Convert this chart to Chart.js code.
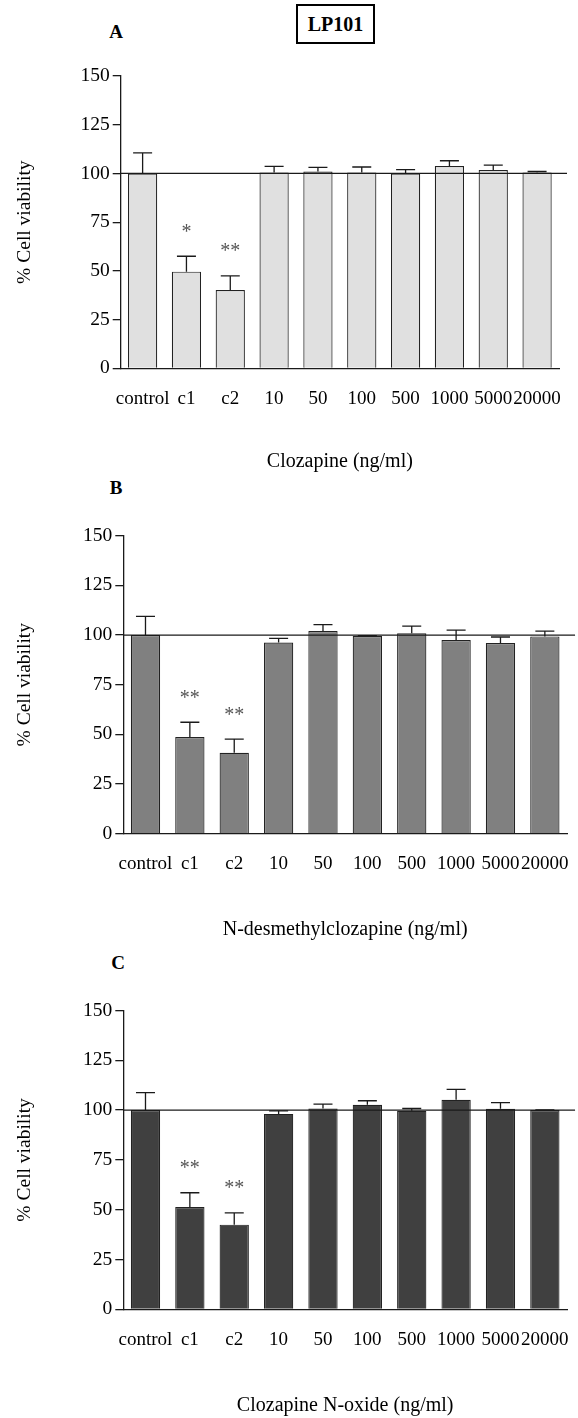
<!DOCTYPE html>
<html>
<head>
<meta charset="utf-8">
<script src="https://cdn.jsdelivr.net/npm/chart.js@4.4.0/dist/chart.umd.min.js"></script>
<style>
  body { margin: 0; background: #fff; }
  #page { position: relative; width: 578px; height: 1418px; font-family: "Liberation Serif", "Times New Roman", serif; color: #000; }
  canvas { position: absolute; left: 0; }
  .letter { position: absolute; font-weight: bold; font-size: 19px; transform: translate(-50%, -50%); }
  #lp { position: absolute; left: 296px; top: 4px; width: 75px; height: 36px; border: 2px solid #000;
        font-weight: bold; font-size: 20px; text-align: center; line-height: 36px; }
</style>
</head>
<body>
<div id="page">
  <div id="lp">LP101</div>
  <div class="letter" style="left:116px;top:32px">A</div>
  <div class="letter" style="left:116px;top:488px">B</div>
  <div class="letter" style="left:118px;top:963px">C</div>
  <canvas id="chartA" width="578" height="424" style="top:50px"></canvas>
  <canvas id="chartB" width="578" height="442" style="top:500px"></canvas>
  <canvas id="chartC" width="578" height="443" style="top:975px"></canvas>
</div>
<script>
// x categories (ng/ml)
const categories = ['control', 'c1', 'c2', '10', '50', '100', '500', '1000', '5000', '20000'];

// A: clozapine
const clozapineMean = [100, 49.6, 40.2, 100.5, 101, 100.5, 100, 103.8, 101.7, 100.5];
const clozapineSem  = [10.6, 7.9, 7.2, 3.1, 2.1, 2.8, 2.0, 2.7, 2.6, 0.5];
const clozapineSig  = ['', '*', '**', '', '', '', '', '', '', ''];

// B: N-desmethylclozapine
const desmethylMean = [100, 48.7, 40.7, 96.2, 102, 99.5, 100.9, 97.5, 96, 99.3];
const desmethylSem  = [9.4, 7.4, 6.9, 2.1, 3.2, 0.2, 3.6, 5.0, 3.0, 2.7];
const desmethylSig  = ['', '**', '**', '', '', '', '', '', '', ''];

// C: clozapine N-oxide
const noxideMean = [100, 51.3, 42.5, 98.1, 100.8, 102.7, 99.7, 105.2, 100.7, 100];
const noxideSem  = [8.8, 7.2, 5.9, 1.5, 2.2, 2.0, 1.1, 5.2, 3.1, 0.1];
const noxideSig  = ['', '**', '**', '', '', '', '', '', '', ''];

const yMin = 0, yMax = 150, yStep = 25;
const refValue = 100;

const serif = '"Liberation Serif", "Times New Roman", serif';

// upper error bars, 100% line and significance stars
const errorBars = {
  id: 'errorBars',
  afterDatasetsDraw(chart, args, opts) {
    const ctx = chart.ctx;
    const y = chart.scales.y;
    const area = chart.chartArea;
    const meta = chart.getDatasetMeta(0);
    const values = chart.data.datasets[0].data;
    ctx.save();
    ctx.strokeStyle = '#1a1a1a';
    ctx.lineWidth = 1.3;
    const yRef = y.getPixelForValue(opts.ref);
    ctx.beginPath();
    ctx.moveTo(area.left, yRef);
    ctx.lineTo(area.right + 8, yRef);
    ctx.stroke();
    meta.data.forEach((bar, i) => {
      const top = y.getPixelForValue(values[i] + opts.sem[i]);
      ctx.beginPath();
      ctx.moveTo(bar.x, bar.y);
      ctx.lineTo(bar.x, top);
      ctx.moveTo(bar.x - 9.5, top);
      ctx.lineTo(bar.x + 9.5, top);
      ctx.stroke();
      if (opts.stars[i]) {
        ctx.fillStyle = '#555';
        ctx.font = '20px ' + serif;
        ctx.textAlign = 'center';
        ctx.textBaseline = 'alphabetic';
        ctx.fillText(opts.stars[i], bar.x, top - 18.6);
      }
    });
    ctx.restore();
  }
};

function makePanel(id, values, sem, stars, color, xTitle, box) {
  return new Chart(document.getElementById(id), {
    type: 'bar',
    data: {
      labels: categories,
      datasets: [{
        data: values,
        backgroundColor: color,
        borderColor: '#222',
        borderWidth: 1.2,
        barPercentage: box.bar,
        categoryPercentage: 1
      }]
    },
    options: {
      responsive: false,
      animation: false,
      layout: { padding: { top: box.padTop, right: box.padRight, left: 0, bottom: 0 } },
      plugins: {
        legend: { display: false },
        tooltip: { enabled: false },
        errorBars: { sem: sem, stars: stars, ref: refValue }
      },
      scales: {
        x: {
          afterFit: s => { s.height = box.xHeight; },
          // invisible ticks just push the labels down
          grid: { display: true, drawOnChartArea: false, drawTicks: true, tickLength: 10,
                  tickColor: 'rgba(0,0,0,0)' },
          border: { display: true, color: '#1a1a1a', width: 1.3 },
          ticks: { color: '#000', font: { family: serif, size: 19 }, padding: 9,
                   maxRotation: 0, minRotation: 0, autoSkip: false },
          title: { display: true, text: xTitle, color: '#000',
                   font: { family: serif, size: 20 }, padding: { top: 0, bottom: 0 } }
        },
        y: {
          min: yMin, max: yMax,
          afterFit: s => { s.width = box.yWidth; },
          grid: { display: true, drawOnChartArea: false, drawTicks: true, tickLength: 8,
                  color: '#1a1a1a', lineWidth: 1.3 },
          border: { display: true, color: '#1a1a1a', width: 1.3 },
          ticks: { stepSize: yStep, color: '#000', font: { family: serif, size: 19.5 }, padding: 3 },
          title: { display: true, text: '% Cell viability', color: '#000',
                   font: { family: serif, size: 19.5 }, padding: { top: 13, bottom: 0 } }
        }
      }
    },
    plugins: [errorBars]
  });
}

makePanel('chartA', clozapineMean, clozapineSem, clozapineSig, '#e0e0e0', 'Clozapine (ng/ml)',
  { yWidth: 120.7, xHeight: 105.7, padTop: 26, padRight: 19, bar: 0.667 });
makePanel('chartB', desmethylMean, desmethylSem, desmethylSig, '#808080', 'N-desmethylclozapine (ng/ml)',
  { yWidth: 123.3, xHeight: 108.3, padTop: 35.7, padRight: 7.8, bar: 0.66 });
makePanel('chartC', noxideMean, noxideSem, noxideSig, '#404040', 'Clozapine N-oxide (ng/ml)',
  { yWidth: 123.3, xHeight: 108.7, padTop: 35.5, padRight: 7.8, bar: 0.66 });
</script>
</body>
</html>
